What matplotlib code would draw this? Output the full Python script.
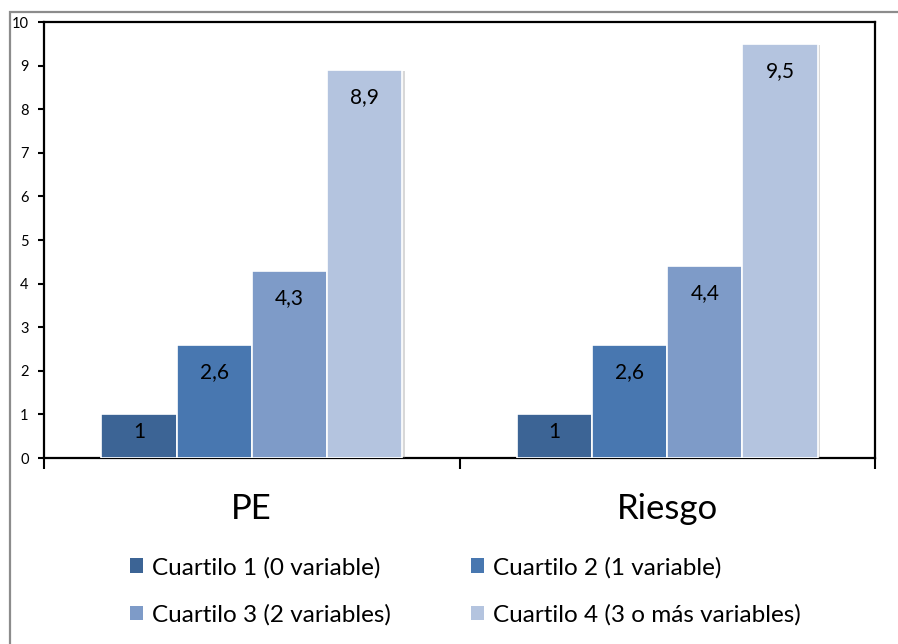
import matplotlib
matplotlib.use("Agg")
import matplotlib.pyplot as plt
import matplotlib.patheffects as pe
from matplotlib.patches import Rectangle, Patch
import numpy as np

categories = ["PE", "Riesgo"]
series = ["Cuartilo 1 (0 variable)", "Cuartilo 2 (1 variable)",
          "Cuartilo 3 (2 variables)", "Cuartilo 4 (3 o más variables)"]
values = [
    [1.0, 1.0],
    [2.6, 2.6],
    [4.3, 4.4],
    [8.9, 9.5],
]
colors = ["#3C6495", "#4877B0", "#7E9BC8", "#B4C4DF"]
yticks = list(range(0, 11))

plt.rcParams["font.family"] = ["Lato", "DejaVu Sans"]

fig = plt.figure(figsize=(8.98, 6.44), dpi=100)
ax = fig.add_axes([44 / 898, 1 - 458 / 644, (875 - 44) / 898, (458 - 22) / 644])

# outer chart frame
fig.patches.append(Rectangle((10 / 898, -0.1), 1.2, 1 - 12 / 644 + 0.1,
                             transform=fig.transFigure, fill=False,
                             edgecolor="#8C8C8C", linewidth=1.6, zorder=0))

x = np.arange(len(categories))
width = 0.181
offsets = (np.arange(len(series)) - 1.5) * width

for i, (name, vals, col) in enumerate(zip(series, values, colors)):
    bars = ax.bar(x + offsets[i], vals, width, color=col, edgecolor="white",
                  linewidth=1.2, label=name, zorder=3)
    for b in bars:
        b.set_path_effects([pe.SimplePatchShadow(offset=(2, -1), shadow_rgbFace="#808080",
                                                 alpha=0.3), pe.Normal()])
    for xi, v in zip(x + offsets[i], vals):
        label = f"{v:g}".replace(".", ",")
        off = -13 if v < 1.5 else -19.5
        ax.annotate(label, (xi, v), xytext=(0, off), textcoords="offset points",
                    ha="center", va="center", fontsize=15, color="black", zorder=4)

ax.set_xlim(-0.5, len(categories) - 0.5)
ax.set_ylim(0, 10)
ax.set_yticks(yticks)
ax.set_yticklabels([str(t) for t in yticks], fontsize=10.5)
ax.set_xticks(np.arange(len(categories) + 1) - 0.5)
ax.set_xticklabels([])
ax.tick_params(axis="y", direction="out", length=4, width=1.5, pad=7)
ax.tick_params(axis="x", direction="out", length=8, width=1.5)
for s in ax.spines.values():
    s.set_linewidth(1.6)
    s.set_color("black")

for xi, c in zip(x, categories):
    ax.annotate(c, (xi, 0), xytext=(0, -37), textcoords="offset points",
                ha="center", va="center", fontsize=25, annotation_clip=False)

# legend filled row by row (two columns)
handles = [Patch(facecolor=c, edgecolor="none") for c in colors]
order = [0, 2, 1, 3]
fig.legend([handles[k] for k in order], [series[k] for k in order],
           loc="upper left", bbox_to_anchor=(108 / 898, 1 - 535 / 644),
           ncol=2, frameon=False, fontsize=17.5, handlelength=0.55, handleheight=0.55,
           handletextpad=0.35, labelspacing=1.06, columnspacing=3.3)

fig.savefig("out.png", dpi=100)
